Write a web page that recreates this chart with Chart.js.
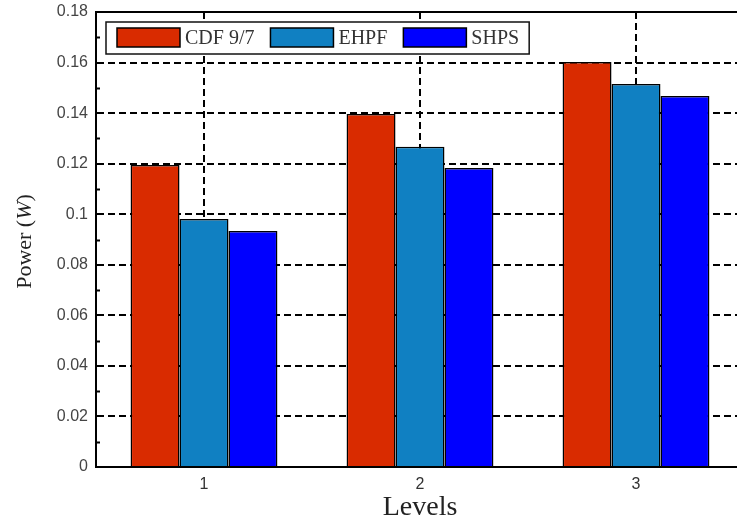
<!DOCTYPE html>
<html>
<head>
<meta charset="utf-8">
<script src="https://cdn.jsdelivr.net/npm/chart.js@4/dist/chart.umd.min.js"></script>
<style>
  html, body { margin: 0; padding: 0; background: #fff; overflow: hidden; }
  canvas { display: block; }
</style>
</head>
<body>
<canvas id="chart" width="760" height="522"></canvas>
<script>
// data
const levels = ['1', '2', '3'];
const cdf97 = [0.1195, 0.1396, 0.1602];
const ehpf = [0.0981, 0.1267, 0.1515];
const shps = [0.0934, 0.1183, 0.1468];
const seriesNames = ['CDF 9/7', 'EHPF', 'SHPS'];
const minorTicks = [0.01, 0.03, 0.05, 0.07, 0.09, 0.11, 0.13, 0.15, 0.17];

const colors = ['#d92b00', '#1080c2', '#0000ff'];

// frame, inward minor ticks, boxed legend and y title
const decorations = {
  id: 'decorations',
  afterDraw(chart) {
    const ctx = chart.ctx;
    const area = chart.chartArea;
    const y = chart.scales.y;

    ctx.save();
    ctx.strokeStyle = '#000';
    ctx.lineWidth = 2;
    ctx.beginPath();
    ctx.moveTo(area.left - 1, area.top);
    ctx.lineTo(area.right, area.top);
    ctx.stroke();

    minorTicks.forEach(v => {
      const py = Math.round(y.getPixelForValue(v)) + 0.5;
      ctx.beginPath();
      ctx.moveTo(area.left, py);
      ctx.lineTo(area.left + 4, py);
      ctx.stroke();
    });

    // legend
    ctx.font = '20px "Liberation Serif", "Times New Roman", serif';
    const bx = area.left + 10, by = area.top + 10, bh = 32;
    let x = bx + 11;
    const items = chart.data.datasets.map(ds => {
      const it = { x, ds, w: ctx.measureText(ds.label).width };
      x += 63 + 5 + it.w + 16;
      return it;
    });
    const bw = x - 16 + 10 - bx;
    ctx.fillStyle = '#fff';
    ctx.fillRect(bx, by, bw, bh);
    ctx.lineWidth = 1.5;
    ctx.strokeStyle = '#111';
    ctx.strokeRect(bx, by, bw, bh);
    items.forEach(it => {
      ctx.fillStyle = it.ds.backgroundColor;
      ctx.fillRect(it.x, by + 6, 63, 19);
      ctx.strokeStyle = '#000';
      ctx.lineWidth = 1.5;
      ctx.strokeRect(it.x, by + 6, 63, 19);
      ctx.fillStyle = '#333';
      ctx.textBaseline = 'middle';
      ctx.textAlign = 'left';
      ctx.fillText(it.ds.label, it.x + 68, by + 17);
    });

    // y title with italic W
    ctx.translate(area.left - 71, (area.top + area.bottom) / 2 + 2);
    ctx.rotate(-Math.PI / 2);
    ctx.fillStyle = '#222';
    ctx.textBaseline = 'middle';
    const normal = '22px "Liberation Serif", "Times New Roman", serif';
    const italic = 'italic 22px "Liberation Serif", "Times New Roman", serif';
    const parts = [['Power (', normal], ['W', italic], [')', normal]];
    let total = 0;
    parts.forEach(p => { ctx.font = p[1]; total += ctx.measureText(p[0]).width; });
    let tx = -total / 2;
    parts.forEach(p => {
      ctx.font = p[1];
      ctx.fillText(p[0], tx, 0);
      tx += ctx.measureText(p[0]).width;
    });
    ctx.restore();
  }
};

const datasets = [cdf97, ehpf, shps].map((vals, i) => ({
  label: seriesNames[i],
  data: vals,
  backgroundColor: colors[i],
  borderColor: '#000',
  borderWidth: 1.5,
  barPercentage: 1,
  categoryPercentage: 0.68
}));

new Chart(document.getElementById('chart'), {
  type: 'bar',
  data: { labels: levels, datasets },
  options: {
    responsive: false,
    animation: false,
    devicePixelRatio: 1,
    layout: { padding: { left: 0, top: 12, right: 16, bottom: 0 } },
    plugins: { legend: { display: false }, tooltip: { enabled: false } },
    scales: {
      x: {
        offset: true,
        afterFit: s => { s.height = 55; s.paddingLeft = 0; s.paddingRight = 0; },
        grid: { offset: false, color: '#000', lineWidth: 2, drawTicks: false },
        border: { display: true, color: '#000', width: 2, dash: [7, 4] },
        ticks: { padding: 8, color: '#333', font: { family: 'Arial, "Liberation Sans", sans-serif', size: 16 } },
        title: {
          display: true,
          text: 'Levels',
          color: '#222',
          padding: { top: 0, bottom: 0 },
          font: { family: '"Liberation Serif", "Times New Roman", serif', size: 28, lineHeight: 1 }
        }
      },
      y: {
        min: 0,
        max: 0.18,
        afterFit: s => { s.width = 96; s.paddingTop = 0; s.paddingBottom = 0; },
        grid: {
          drawTicks: false,
          lineWidth: 2,
          color: c => (c.tick && (c.tick.value <= 0.0001 || c.tick.value >= 0.1799)) ? 'rgba(0,0,0,0)' : '#000'
        },
        border: { display: true, color: '#000', width: 2, dash: [7, 4] },
        ticks: {
          stepSize: 0.02,
          padding: 8,
          color: '#444',
          font: { family: 'Arial, "Liberation Sans", sans-serif', size: 16 },
          callback: v => String(+v.toFixed(2))
        }
      }
    }
  },
  plugins: [decorations]
});
</script>
</body>
</html>
